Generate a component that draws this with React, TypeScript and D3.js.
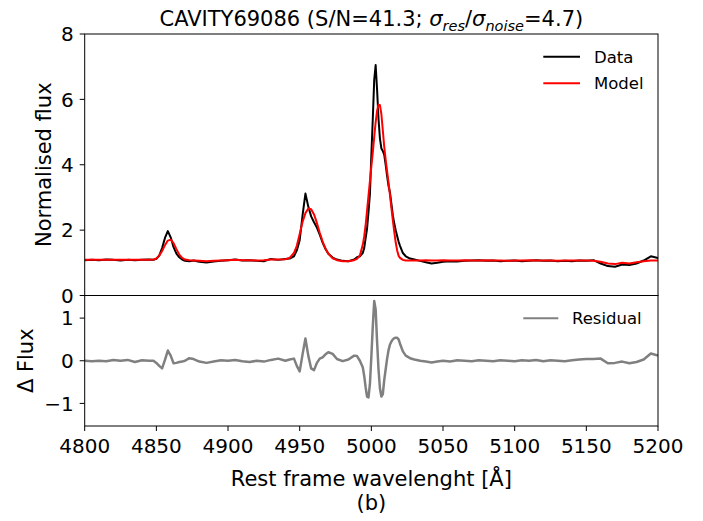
import React from "react";
import * as d3 from "d3";

const wavelength = [
  4800, 4805, 4810, 4815, 4820, 4825, 4830, 4835, 4840, 4845, 4848,
  4850, 4852, 4854, 4856, 4858, 4860, 4862, 4864, 4866, 4868, 4870,
  4873, 4876, 4880, 4885, 4890, 4895, 4900, 4905, 4910, 4915, 4920, 4925, 4930, 4935, 4940,
  4943, 4946, 4948, 4950, 4952, 4954, 4956, 4958, 4960, 4962, 4964, 4966, 4968, 4970,
  4973, 4976, 4980, 4984, 4988, 4990, 4992, 4994,
  4995, 4996, 4997, 4998, 4999, 5000, 5001, 5002, 5003, 5004, 5005, 5006, 5007, 5008, 5009,
  5010, 5011, 5012, 5013, 5014, 5015, 5016, 5017, 5018, 5019, 5020,
  5022, 5024, 5027, 5030, 5034, 5038, 5042, 5046,
  5050, 5055, 5060, 5065, 5070, 5075, 5080, 5085, 5090, 5095, 5100, 5105, 5110, 5115, 5120,
  5125, 5130, 5135, 5140, 5145, 5150, 5155, 5160, 5165, 5170, 5175, 5180, 5185, 5190, 5195, 5200,
];

const dataFlux = [
  1.08, 1.09, 1.08, 1.1, 1.09, 1.07, 1.09, 1.08, 1.09, 1.1, 1.09,
  1.12, 1.22, 1.45, 1.76, 1.97, 1.78, 1.48, 1.28, 1.17, 1.1, 1.06,
  1.05, 1.07, 1.03, 1.01, 1.04, 1.06, 1.08, 1.1, 1.07, 1.08, 1.06, 1.05, 1.12, 1.09, 1.12,
  1.13, 1.2, 1.38, 1.69, 2.45, 3.12, 2.72, 2.42, 2.24, 2.08, 1.86, 1.62, 1.42, 1.28,
  1.16, 1.1, 1.06, 1.05, 1.1, 1.17, 1.2, 1.3,
  1.45, 1.75, 2.05, 2.55, 3.1, 4.3, 5.4, 6.6, 7.05, 6.3, 5.4, 4.8, 4.5, 4.42, 4.3,
  4.0, 3.65, 3.35, 3.15, 2.8, 2.45, 2.2, 2.0, 1.82, 1.65, 1.52,
  1.3, 1.2, 1.13, 1.1, 1.06, 1.02, 0.98, 1.0,
  1.03, 1.05, 1.04, 1.06, 1.07, 1.08, 1.06, 1.07, 1.05, 1.06, 1.07, 1.05, 1.06, 1.08, 1.06,
  1.07, 1.05, 1.06, 1.05, 1.07, 1.06, 1.08, 0.98, 0.9, 0.88, 0.95, 0.93, 0.98, 1.07, 1.2, 1.15,
];

const modelFlux = [
  1.09, 1.09, 1.09, 1.09, 1.09, 1.09, 1.09, 1.09, 1.09, 1.09, 1.1,
  1.13, 1.22, 1.36, 1.54, 1.68, 1.71, 1.6, 1.42, 1.25, 1.15, 1.1,
  1.08, 1.07, 1.06, 1.05, 1.06, 1.07, 1.08, 1.09, 1.08, 1.08, 1.07, 1.08, 1.1, 1.1, 1.11,
  1.15, 1.3, 1.52, 1.88, 2.25, 2.52, 2.66, 2.64, 2.48, 2.22, 1.92, 1.65, 1.44, 1.28,
  1.14, 1.08, 1.05, 1.05, 1.08, 1.12, 1.22, 1.55,
  1.8, 2.15, 2.6, 3.05, 3.5, 3.95, 4.38, 4.85, 5.3, 5.65, 5.84, 5.82, 5.55, 5.05, 4.55,
  4.15, 3.8, 3.45, 3.07, 2.68, 2.3, 1.95, 1.62, 1.38, 1.22, 1.15,
  1.09, 1.07, 1.07, 1.07, 1.07, 1.08, 1.07, 1.07,
  1.08, 1.07, 1.07, 1.08, 1.07, 1.07, 1.08, 1.07, 1.07, 1.06, 1.07, 1.07, 1.08, 1.07, 1.07,
  1.07, 1.06, 1.07, 1.07, 1.07, 1.07, 1.06, 1.03, 0.98, 0.96, 1.0, 0.98, 1.02, 1.05, 1.07, 1.07,
];

const residual = [
  0.0, -0.01, 0.0, -0.01, 0.02, 0.0, 0.02, -0.03, 0.01, 0.0, 0.0,
  -0.05, -0.12, -0.18, 0.02, 0.24, 0.12, -0.06, -0.05, -0.03, -0.02, 0.0,
  0.06, 0.04, -0.02, -0.05, -0.02, 0.01, 0.0, 0.02, -0.01, -0.03, 0.0, -0.02, 0.02, 0.05, 0.0,
  0.03, 0.05, -0.12, -0.25, 0.15, 0.52, 0.12, -0.18, -0.22, -0.05, 0.05, 0.08, 0.15, 0.2,
  0.16, 0.04, -0.01, 0.03, 0.12, 0.11, 0.0, -0.15,
  -0.35, -0.62, -0.84, -0.86, -0.55, 0.1, 0.8, 1.4, 1.2, 0.45, -0.2, -0.65, -0.84, -0.78, -0.45,
  -0.2, 0.05, 0.25, 0.38, 0.45, 0.5, 0.53, 0.54, 0.54, 0.5, 0.4,
  0.22, 0.12, 0.06, 0.03, 0.0, -0.02, -0.04, -0.02,
  0.0, -0.02, 0.01, 0.0, -0.01, 0.01, 0.0, -0.01, 0.01, 0.0, -0.01, 0.01, 0.0, 0.02, -0.01,
  0.01, 0.0, -0.01, 0.01, 0.03, 0.04, 0.04, 0.05, -0.06, -0.05, -0.02, -0.06, -0.03, 0.03, 0.17, 0.12,
];

const xTicks = [4800, 4850, 4900, 4950, 5000, 5050, 5100, 5150, 5200];
const topYTicks = [0, 2, 4, 6, 8];
const bottomYTicks = [-1, 0, 1];

const FONT = "DejaVu Sans, sans-serif";
const W = 703;
const H = 521;
const LEFT = 84.7;
const RIGHT = 658;
const TOP = 34;
const MID = 295.5;
const BOTTOM = 426;
const TICK_FS = 20;
const LABEL_FS = 21;
const LEGEND_FS = 16.5;

export default function App() {
  const x = d3.scaleLinear().domain([4800, 5200]).range([LEFT, RIGHT]);
  const yTop = d3.scaleLinear().domain([0, 8]).range([MID, TOP]);
  const yBot = d3.scaleLinear().domain([-1.53, 1.53]).range([BOTTOM, MID]);

  const lineTop = (vals: number[]) =>
    d3
      .line<number>()
      .x((_, i) => x(wavelength[i]))
      .y((d) => yTop(d))(vals) || "";
  const lineBot =
    d3
      .line<number>()
      .x((_, i) => x(wavelength[i]))
      .y((d) => yBot(d))(residual) || "";

  const tickLen = 5;
  return (
    <svg
      width={W}
      height={H}
      style={{ position: "absolute", left: 0, top: 0, background: "#fff" }}
      fontFamily={FONT}
    >
      <defs>
        <clipPath id="clipTop">
          <rect x={LEFT} y={TOP} width={RIGHT - LEFT} height={MID - TOP} />
        </clipPath>
        <clipPath id="clipBot">
          <rect x={LEFT} y={MID} width={RIGHT - LEFT} height={BOTTOM - MID} />
        </clipPath>
      </defs>
      <rect width={W} height={H} fill="#fff" />

      {/* title */}
      <text x={(LEFT + RIGHT) / 2} y={26} textAnchor="middle" fontSize={LABEL_FS} fill="#000">
        <tspan>CAVITY69086 (S/N=41.3; </tspan>
        <tspan fontStyle="italic">σ</tspan>
        <tspan fontStyle="italic" fontSize={14.5} dy={4.5}>res</tspan>
        <tspan dy={-4.5}>/</tspan>
        <tspan fontStyle="italic">σ</tspan>
        <tspan fontStyle="italic" fontSize={14.5} dy={4.5}>noise</tspan>
        <tspan dy={-4.5}>=4.7)</tspan>
      </text>

      {/* lines */}
      <g clipPath="url(#clipTop)">
        <path d={lineTop(dataFlux)} fill="none" stroke="#000" strokeWidth={2} strokeLinejoin="round" />
        <path d={lineTop(modelFlux)} fill="none" stroke="#ff0000" strokeWidth={2} strokeLinejoin="round" />
      </g>
      <g clipPath="url(#clipBot)">
        <path d={lineBot} fill="none" stroke="#808080" strokeWidth={2.5} strokeLinejoin="round" />
      </g>

      {/* frames */}
      <rect x={LEFT} y={TOP} width={RIGHT - LEFT} height={MID - TOP} fill="none" stroke="#000" strokeWidth={1} />
      <rect x={LEFT} y={MID} width={RIGHT - LEFT} height={BOTTOM - MID} fill="none" stroke="#000" strokeWidth={1} />

      {/* top y ticks */}
      {topYTicks.map((t) => (
        <g key={"ty" + t}>
          <line x1={LEFT - tickLen} x2={LEFT} y1={yTop(t)} y2={yTop(t)} stroke="#000" />
          <text x={LEFT - 11} y={yTop(t)} dy="0.36em" textAnchor="end" fontSize={TICK_FS}>
            {t}
          </text>
        </g>
      ))}
      {/* bottom y ticks */}
      {bottomYTicks.map((t) => (
        <g key={"by" + t}>
          <line x1={LEFT - tickLen} x2={LEFT} y1={yBot(t)} y2={yBot(t)} stroke="#000" />
          <text x={LEFT - 11} y={yBot(t)} dy="0.36em" textAnchor="end" fontSize={TICK_FS}>
            {t < 0 ? "\u2212" + Math.abs(t) : t}
          </text>
        </g>
      ))}
      {/* x ticks */}
      {xTicks.map((t) => (
        <g key={"x" + t}>
          <line x1={x(t)} x2={x(t)} y1={BOTTOM} y2={BOTTOM + tickLen} stroke="#000" />
          <text x={x(t)} y={453} textAnchor="middle" fontSize={TICK_FS}>
            {t}
          </text>
        </g>
      ))}

      {/* axis labels */}
      <text
        transform={`translate(50.5, ${(TOP + MID) / 2}) rotate(-90)`}
        textAnchor="middle"
        fontSize={LABEL_FS}
      >
        Normalised flux
      </text>
      <text
        transform={`translate(32.5, ${(MID + BOTTOM) / 2}) rotate(-90)`}
        textAnchor="middle"
        fontSize={LABEL_FS}
      >
        Δ Flux
      </text>
      <text x={(LEFT + RIGHT) / 2} y={486} textAnchor="middle" fontSize={LABEL_FS}>
        Rest frame wavelenght [Å]
      </text>
      <text x={(LEFT + RIGHT) / 2} y={510} textAnchor="middle" fontSize={LABEL_FS}>
        (b)
      </text>

      {/* legends */}
      <line x1={543.3} x2={580} y1={56.7} y2={56.7} stroke="#000" strokeWidth={2} />
      <text x={594} y={56.7} dy="0.36em" fontSize={LEGEND_FS}>Data</text>
      <line x1={543.3} x2={580} y1={83.3} y2={83.3} stroke="#ff0000" strokeWidth={2} />
      <text x={594} y={83.3} dy="0.36em" fontSize={LEGEND_FS}>Model</text>
      <line x1={523.3} x2={558.3} y1={318.3} y2={318.3} stroke="#808080" strokeWidth={2} />
      <text x={572} y={318.3} dy="0.36em" fontSize={LEGEND_FS}>Residual</text>
    </svg>
  );
}
